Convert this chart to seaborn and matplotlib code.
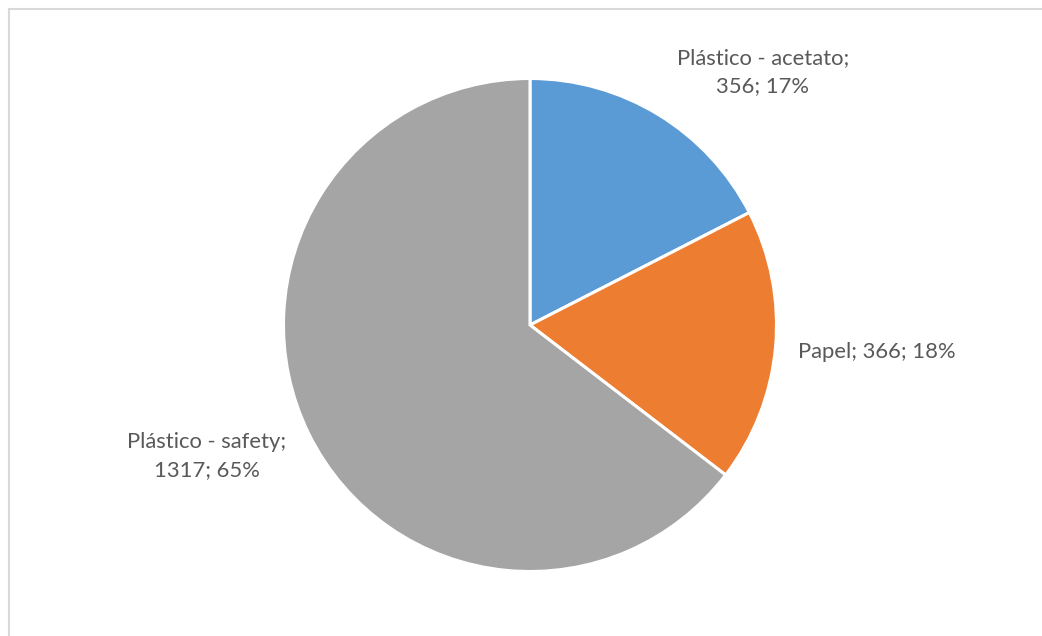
import matplotlib
matplotlib.use("Agg")
import matplotlib.pyplot as plt
import seaborn as sns
from matplotlib.patches import Rectangle

categories = ["Plástico - acetato", "Papel", "Plástico - safety"]
values = [356, 366, 1317]
percents = ["17%", "18%", "65%"]
colors = ["#5B9BD5", "#ED7D31", "#A5A5A5"]

sns.set_theme(style="white")
plt.rcParams['font.family'] = ['Lato', 'DejaVu Sans']

W, H = 1042, 636
fig = plt.figure(figsize=(W / 100, H / 100), dpi=100)
fig.patch.set_facecolor("white")
ax = fig.add_axes([0, 0, 1, 1])

R = 246.5
cx, cy = 530.0, 325.0

def px(x, y):
    return (x - cx) / R, (cy - y) / R

ax.pie(values, colors=sns.color_palette(colors), startangle=90, counterclock=False,
       radius=1.0, center=(0, 0),
       wedgeprops=dict(edgecolor="white", linewidth=2.2))

ax.set_xlim(-cx / R, (W - cx) / R)
ax.set_ylim(-(H - cy) / R, cy / R)
ax.set_aspect("equal")
ax.axis("off")

label_px = [(763, 72), (877, 352), (207, 456)]
texts = [
    f"{categories[0]};\n{values[0]}; {percents[0]}",
    f"{categories[1]}; {values[1]}; {percents[1]}",
    f"{categories[2]};\n{values[2]}; {percents[2]}",
]
for t, (x, y) in zip(texts, label_px):
    X, Y = px(x, y)
    ax.text(X, Y, t, ha="center", va="center", fontsize=15.8, color="#595959",
            linespacing=1.45)

# light chart-area border (top and left visible)
fig.patches.append(Rectangle((8.5 / W, -0.1), 1.2, (H - 8.5) / H + 0.1,
                             transform=fig.transFigure, fill=False,
                             edgecolor="#D9D9D9", linewidth=1.5))

fig.savefig("out.png", dpi=100, facecolor="white")
